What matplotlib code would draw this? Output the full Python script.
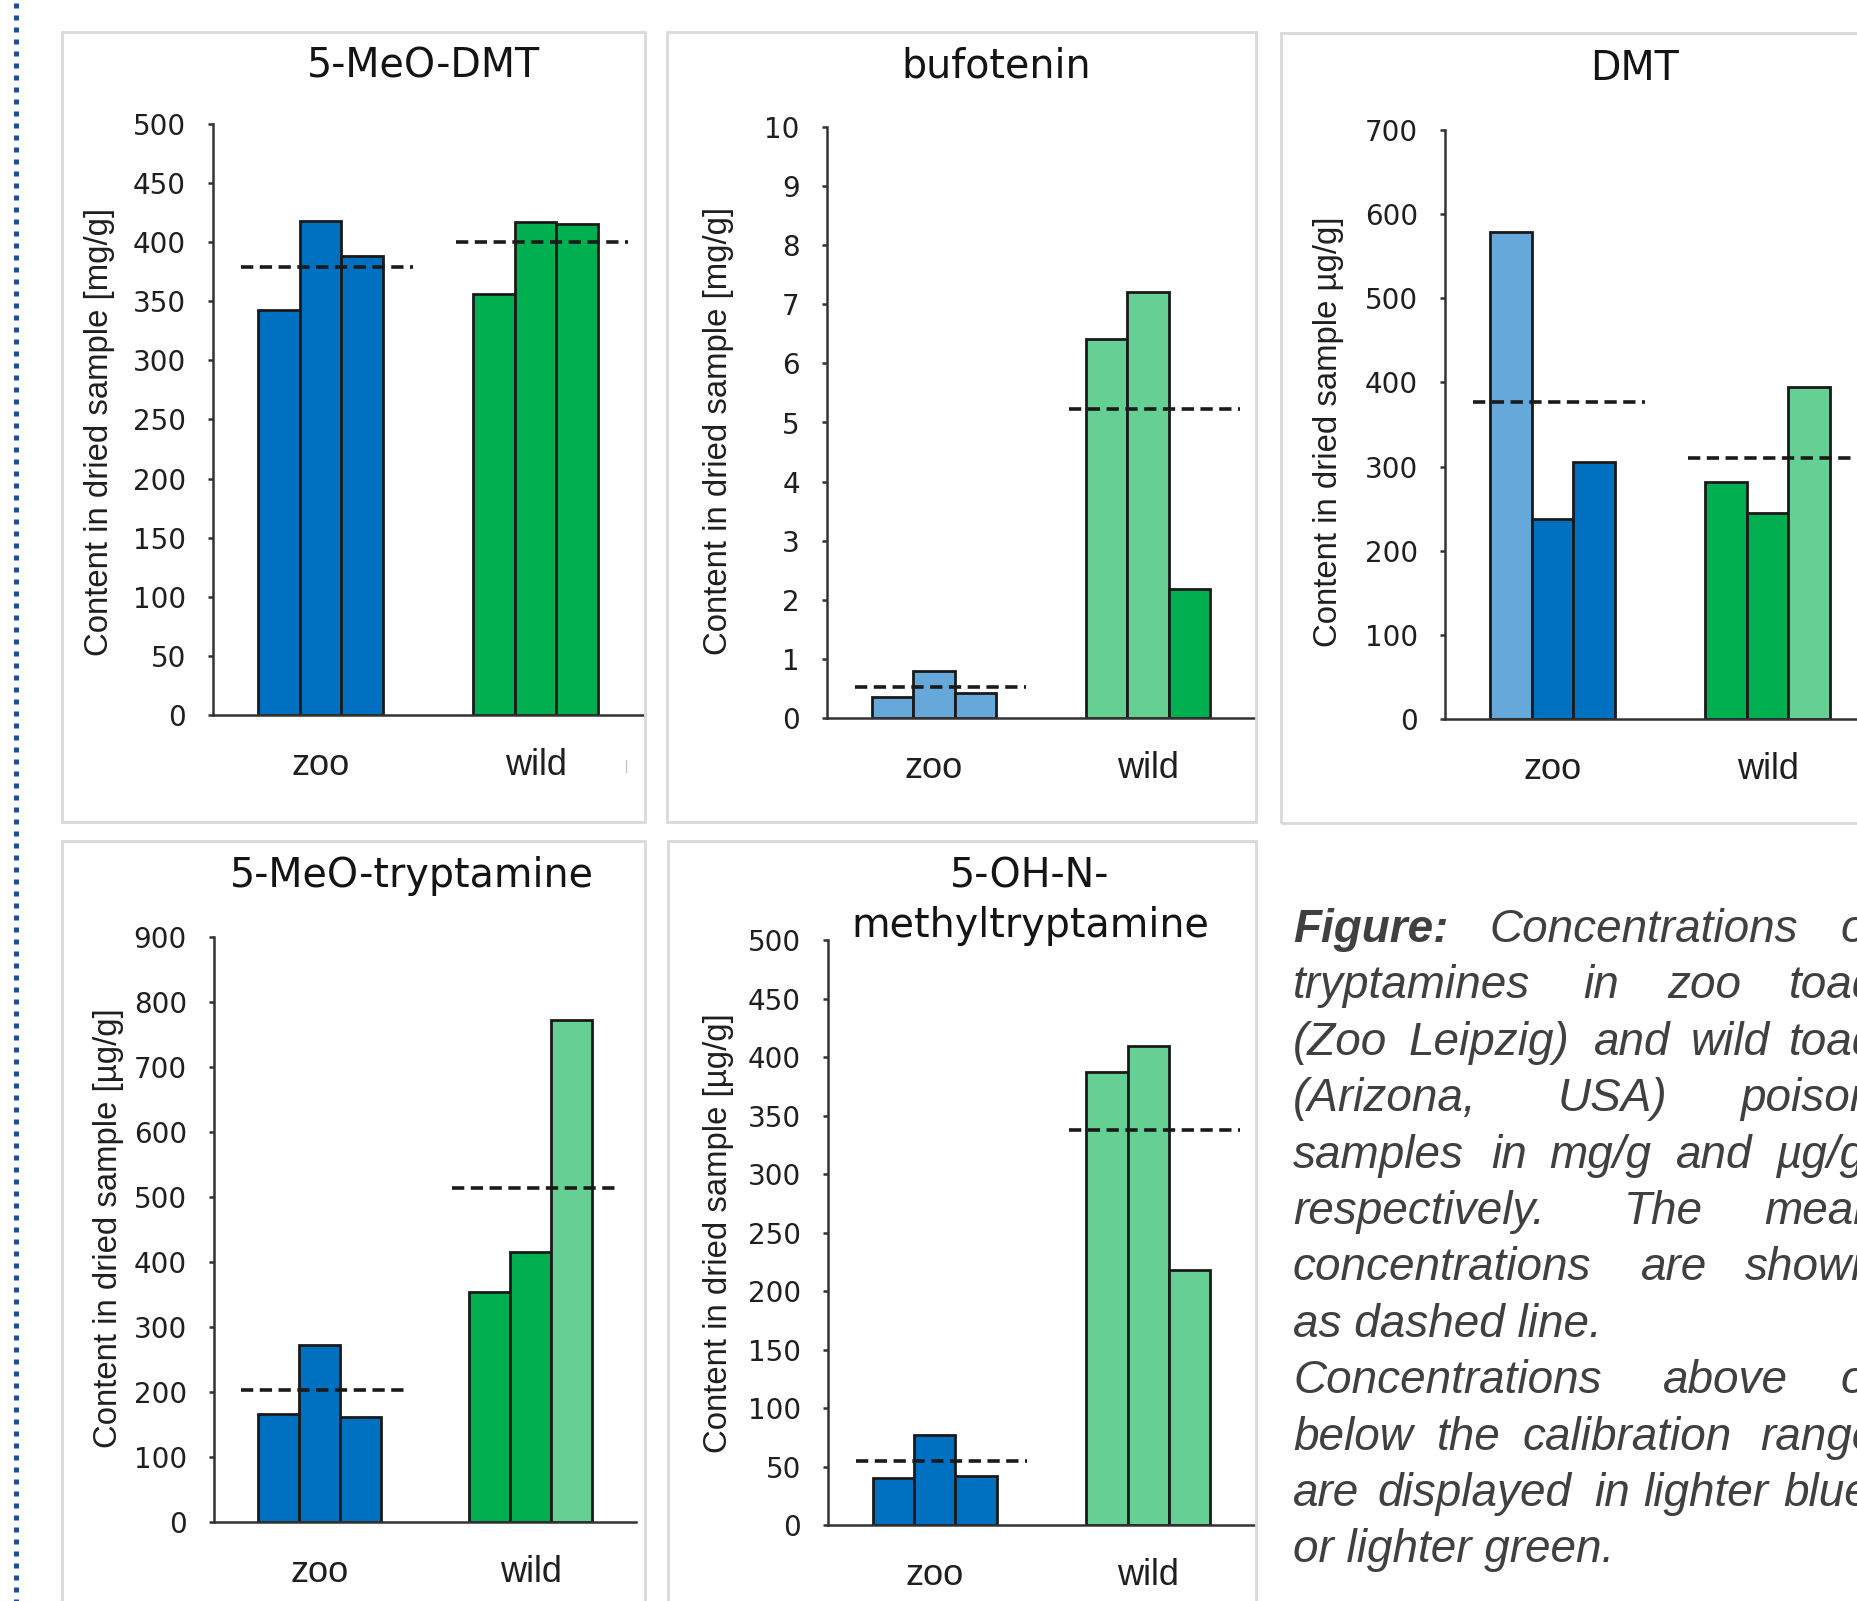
import matplotlib
matplotlib.use('Agg')
import matplotlib.pyplot as plt
from matplotlib import font_manager
from matplotlib.patches import Rectangle
from matplotlib.lines import Line2D

W, H = 1857, 1601  # output size in pixels, dpi 100

groups = ['zoo', 'wild']

# 5-MeO-DMT, mg/g
meo_dmt_zoo = [343, 418, 388]
meo_dmt_wild = [356, 417, 415]
meo_dmt_mean = [379, 400]
meo_dmt_light = [0, 0, 0, 0, 0, 0]

# bufotenin, mg/g
bufo_zoo = [0.36, 0.80, 0.42]
bufo_wild = [6.41, 7.21, 2.19]
bufo_mean = [0.52, 5.22]
bufo_light = [1, 1, 1, 1, 1, 0]

# DMT, ug/g
dmt_zoo = [579, 238, 305]
dmt_wild = [282, 245, 394]
dmt_mean = [377, 310]
dmt_light = [1, 0, 0, 0, 0, 1]

# 5-MeO-tryptamine, ug/g
meo_tryp_zoo = [166, 273, 161]
meo_tryp_wild = [354, 415, 772]
meo_tryp_mean = [203, 514]
meo_tryp_light = [0, 0, 0, 0, 0, 1]

# 5-OH-N-methyltryptamine, ug/g
oh_tryp_zoo = [40, 77, 42]
oh_tryp_wild = [387, 409, 218]
oh_tryp_mean = [55, 338]
oh_tryp_light = [0, 0, 0, 1, 1, 1]

titles = ['5-MeO-DMT', 'bufotenin', 'DMT', '5-MeO-tryptamine', '5-OH-N-\nmethyltryptamine']
ylabels = ['Content in dried sample [mg/g]', 'Content in dried sample [mg/g]',
           'Content in dried sample \u00b5g/g]', 'Content in dried sample [\u00b5g/g]',
           'Content in dried sample [\u00b5g/g]']
ymax = [500, 10, 700, 900, 500]
ystep = [50, 1, 100, 100, 50]

caption_lines = [
    ['Figure:', 'Concentrations', 'of'],
    ['tryptamines', 'in', 'zoo', 'toads'],
    ['(Zoo', 'Leipzig)', 'and', 'wild', 'toads'],
    ['(Arizona,', 'USA)', 'poison'],
    ['samples', 'in', 'mg/g', 'and', '\u00b5g/g'],
    ['respectively.', 'The', 'mean'],
    ['concentrations', 'are', 'shown'],
    ['as dashed line.'],
    ['Concentrations', 'above', 'or'],
    ['below', 'the', 'calibration', 'range'],
    ['are', 'displayed', 'in', 'lighter', 'blue'],
    ['or lighter green.'],
]
# word start positions measured on the poster (px)
caption_x = [
    [1293, 1489, 1841],
    [1293, 1583, 1667, 1789],
    [1293, 1409, 1594, 1691, 1789],
    [1293, 1558, 1740],
    [1293, 1491, 1549, 1676, 1775],
    [1293, 1624, 1764],
    [1293, 1641, 1745],
    [1293],
    [1293, 1663, 1841],
    [1293, 1437, 1523, 1760],
    [1293, 1377, 1594, 1643, 1783],
    [1293],
]

panels = [
    (meo_dmt_zoo, meo_dmt_wild, meo_dmt_mean, meo_dmt_light),
    (bufo_zoo, bufo_wild, bufo_mean, bufo_light),
    (dmt_zoo, dmt_wild, dmt_mean, dmt_light),
    (meo_tryp_zoo, meo_tryp_wild, meo_tryp_mean, meo_tryp_light),
    (oh_tryp_zoo, oh_tryp_wild, oh_tryp_mean, oh_tryp_light),
]

DARK = ['#0070C0', '#00B050']
LIGHT = ['#66A8DA', '#66CF94']
EDGE = '#1a1a1a'

installed = {f.name for f in font_manager.fontManager.ttflist}
NARROW = 'Liberation Sans'
for cand in ['Liberation Sans Narrow', 'DejaVu Sans Condensed']:
    if cand in installed:
        NARROW = cand
        break

# layout in poster pixels: axes (left, right, y0, ytop), frames, labels, titles
axes_px = [(213, 643, 715, 124), (827, 1255, 718, 127), (1445, 1875, 719, 130),
           (214, 636, 1522, 937), (828, 1255, 1525, 940)]
frames_px = [(62, 32, 645, 822), (667, 32, 1256, 822), (1281, 33, 1900, 823),
             (62, 841, 645, 1700), (668, 841, 1256, 1700)]
ylabel_px = [(100, 432), (719, 431), (1328, 432), (109, 1228), (719, 1233)]
title_px = [(424, 78), (996, 78), (1634, 80), (412, 887), (1030, 937)]
YLABEL_LEN = 447  # length of the first y label on the poster


def fx(x):
    return x / W


def fy(y):
    return 1 - y / H


fig = plt.figure(figsize=(W / 100, H / 100), dpi=100)
fig.patch.set_facecolor('white')
renderer = fig.canvas.get_renderer()

# fit the y label size to the poster
probe = fig.text(0, 0, ylabels[0], rotation=90, family=NARROW, size=28)
ylab_size = 28 * YLABEL_LEN / probe.get_window_extent(renderer).height
probe.remove()

# dotted poster border on the left
fig.add_artist(Line2D([fx(15.8), fx(15.8)], [fy(3), fy(H)], transform=fig.transFigure,
                      color='#1F4E9A', lw=3.6, linestyle=(0, (1.0, 1.4)),
                      dash_capstyle='butt'))

for (x1, y1, x2, y2) in frames_px:
    fig.add_artist(Rectangle((fx(x1), fy(y2)), fx(x2) - fx(x1), fy(y1) - fy(y2),
                             transform=fig.transFigure, fill=False,
                             ec='#d9d9d9', lw=2.0))

bw = 0.193
for i, (zoo, wild, mean, light) in enumerate(panels):
    left, right, y0, ytop = axes_px[i]
    ax = fig.add_axes([fx(left), fy(y0), fx(right) - fx(left), fy(ytop) - fy(y0)])
    ax.set_xlim(-0.5, 1.5)
    ax.set_ylim(0, ymax[i])
    vals = [zoo, wild]
    for g in range(2):
        for j in range(3):
            k = g * 3 + j
            col = LIGHT[g] if light[k] else DARK[g]
            ax.bar(g + (j - 1) * bw, vals[g][j], width=bw, color=col,
                   edgecolor=EDGE, linewidth=2.0, zorder=2)
        ax.plot([g - 0.37, g + 0.43], [mean[g], mean[g]], color=EDGE, lw=2.6,
                linestyle=(0, (3.4, 1.8)), zorder=3, clip_on=False)
    ax.set_yticks([v * ystep[i] for v in range(int(round(ymax[i] / ystep[i])) + 1)])
    ax.set_xticks([0, 1])
    ax.set_xticklabels(groups)
    for s in ['top', 'right']:
        ax.spines[s].set_visible(False)
    for s in ['left', 'bottom']:
        ax.spines[s].set_color('#333333')
        ax.spines[s].set_linewidth(1.8)
    ax.tick_params(axis='y', length=3.6, width=1.8, color='#333333',
                   labelsize=20, pad=16, labelcolor='#1f1f1f')
    ax.tick_params(axis='x', length=0, pad=24, labelsize=26, labelcolor='#1f1f1f')
    for lbl in ax.get_xticklabels():
        lbl.set_fontfamily('Liberation Sans')
    ax.patch.set_alpha(0)

    lx, ly = ylabel_px[i]
    fig.text(fx(lx), fy(ly), ylabels[i], rotation=90, ha='center', va='center',
             rotation_mode='anchor', family=NARROW, size=ylab_size, color='#1f1f1f')
    tx, ty = title_px[i]
    fig.text(fx(tx), fy(ty), titles[i], ha='center', va='baseline', size=28.5,
             color='#141414', linespacing=1.32, multialignment='center')

# small grey mark in the first panel
fig.add_artist(Line2D([fx(626), fx(626)], [fy(760), fy(772)], transform=fig.transFigure,
                      color='#c8c8c8', lw=1.0))

# caption text
for n, words in enumerate(caption_lines):
    base = 942 + n * 56.4
    for w, x in zip(words, caption_x[n]):
        weight = 'bold' if w == 'Figure:' else 'normal'
        fig.text(fx(x), fy(base), w, ha='left', va='baseline', family='Liberation Sans',
                 style='italic', weight=weight, size=33, color='#404040')

fig.savefig('out.png', dpi=100)
